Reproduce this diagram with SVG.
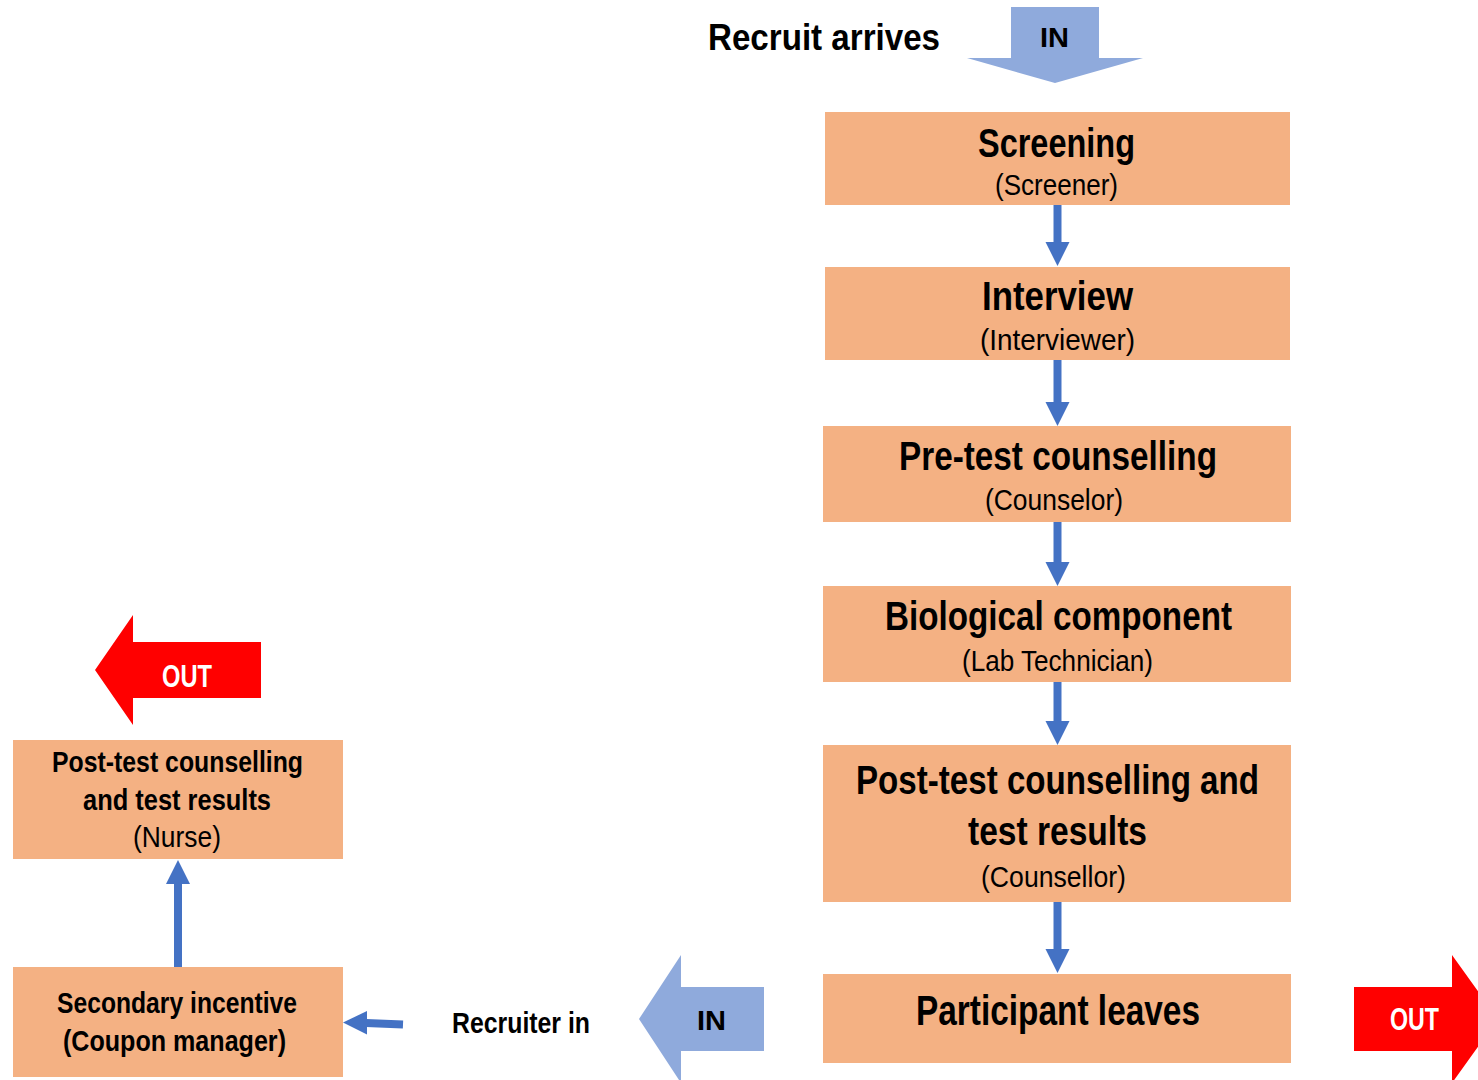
<svg xmlns="http://www.w3.org/2000/svg" width="1478" height="1080" viewBox="0 0 1478 1080">
<defs>
<style>
text{font-family:"Liberation Sans Narrow","Liberation Sans",Arial,sans-serif;fill:#000}
.b{font-weight:bold}
.r{font-weight:normal}
.w{fill:#fff}
.box{fill:#F4B183}
.in{fill:#8FAADC}
.out{fill:#FF0000}
.sh{stroke:#4472C4;stroke-width:8;fill:none}
.hd{fill:#4472C4}
</style>
</defs>
<rect width="1478" height="1080" fill="#fff"/>

<g id="recruit-arrives">
<text class="b" x="708" y="50" font-size="37" textLength="232" lengthAdjust="spacingAndGlyphs">Recruit arrives</text>
</g>
<g id="in-top">
<polygon class="in" points="1011,7 1099,7 1099,58 1143,58 1055,83 967,58 1011,58"/>
<text class="b" x="1040" y="47" font-size="28" textLength="29" lengthAdjust="spacingAndGlyphs">IN</text>
</g>

<g id="screening">
<rect class="box" x="825" y="112" width="465" height="93"/>
<text class="b" x="978" y="157" font-size="40" textLength="157" lengthAdjust="spacingAndGlyphs">Screening</text>
<text class="r" x="995" y="195" font-size="29" textLength="123" lengthAdjust="spacingAndGlyphs">(Screener)</text>
</g>
<g id="interview">
<rect class="box" x="825" y="267" width="465" height="93"/>
<text class="b" x="982" y="310" font-size="40" textLength="151" lengthAdjust="spacingAndGlyphs">Interview</text>
<text class="r" x="980" y="350" font-size="29" textLength="155" lengthAdjust="spacingAndGlyphs">(Interviewer)</text>
</g>
<g id="pretest">
<rect class="box" x="823" y="426" width="468" height="96"/>
<text class="b" x="899" y="470" font-size="40" textLength="318" lengthAdjust="spacingAndGlyphs">Pre-test counselling</text>
<text class="r" x="985" y="510" font-size="29" textLength="138" lengthAdjust="spacingAndGlyphs">(Counselor)</text>
</g>
<g id="biological">
<rect class="box" x="823" y="586" width="468" height="96"/>
<text class="b" x="885" y="630" font-size="40" textLength="347" lengthAdjust="spacingAndGlyphs">Biological component</text>
<text class="r" x="962" y="671" font-size="29" textLength="191" lengthAdjust="spacingAndGlyphs">(Lab Technician)</text>
</g>
<g id="posttest">
<rect class="box" x="823" y="745" width="468" height="157"/>
<text class="b" x="856" y="794" font-size="40" textLength="403" lengthAdjust="spacingAndGlyphs">Post-test counselling and</text>
<text class="b" x="968" y="845" font-size="40" textLength="179" lengthAdjust="spacingAndGlyphs">test results</text>
<text class="r" x="981" y="887" font-size="29" textLength="145" lengthAdjust="spacingAndGlyphs">(Counsellor)</text>
</g>
<g id="participant-leaves">
<rect class="box" x="823" y="974" width="468" height="89"/>
<text class="b" x="916" y="1025" font-size="43" textLength="284" lengthAdjust="spacingAndGlyphs">Participant leaves</text>
</g>
<g id="out-right">
<polygon class="out" points="1354,987 1452,987 1452,955 1498,1019 1452,1083 1452,1051 1354,1051"/>
<text class="b w" x="1390" y="1030" font-size="32" textLength="49" lengthAdjust="spacingAndGlyphs">OUT</text>
</g>
<g id="in-bottom">
<polygon class="in" points="764,987 681,987 681,955 639,1019 681,1083 681,1051 764,1051"/>
<text class="b" x="697" y="1030" font-size="28" textLength="29" lengthAdjust="spacingAndGlyphs">IN</text>
</g>
<g id="recruiter-in">
<text class="b" x="452" y="1033" font-size="29" textLength="138" lengthAdjust="spacingAndGlyphs">Recruiter in</text>
</g>
<g id="out-left">
<polygon class="out" points="261,642 133,642 133,615 95,670 133,725 133,698 261,698"/>
<text class="b w" x="162" y="687" font-size="31" textLength="50" lengthAdjust="spacingAndGlyphs">OUT</text>
</g>
<g id="nurse">
<rect class="box" x="13" y="740" width="330" height="119"/>
<text class="b" x="52" y="772" font-size="30" textLength="251" lengthAdjust="spacingAndGlyphs">Post-test counselling</text>
<text class="b" x="83" y="810" font-size="30" textLength="188" lengthAdjust="spacingAndGlyphs">and test results</text>
<text class="r" x="133" y="847" font-size="30" textLength="88" lengthAdjust="spacingAndGlyphs">(Nurse)</text>
</g>
<g id="coupon">
<rect class="box" x="13" y="967" width="330" height="110"/>
<text class="b" x="57" y="1013" font-size="30" textLength="240" lengthAdjust="spacingAndGlyphs">Secondary incentive</text>
<text class="b" x="63" y="1051" font-size="30" textLength="223" lengthAdjust="spacingAndGlyphs">(Coupon manager)</text>
</g>

<g id="connectors">
<line class="sh" x1="1057.5" y1="205" x2="1057.5" y2="243"/>
<polygon class="hd" points="1045.5,242 1069.5,242 1057.5,266"/>
<line class="sh" x1="1057.5" y1="360" x2="1057.5" y2="403"/>
<polygon class="hd" points="1045.5,402 1069.5,402 1057.5,426"/>
<line class="sh" x1="1057.5" y1="522" x2="1057.5" y2="563"/>
<polygon class="hd" points="1045.5,562 1069.5,562 1057.5,586"/>
<line class="sh" x1="1057.5" y1="682" x2="1057.5" y2="722"/>
<polygon class="hd" points="1045.5,721 1069.5,721 1057.5,745"/>
<line class="sh" x1="1057.5" y1="902" x2="1057.5" y2="950"/>
<polygon class="hd" points="1045.5,949 1069.5,949 1057.5,973"/>
<line class="sh" x1="178" y1="967" x2="178" y2="883"/>
<polygon class="hd" points="166,884 190,884 178,860"/>
<line class="sh" x1="403" y1="1024.5" x2="366" y2="1023"/>
<polygon class="hd" points="367,1011 367,1034.5 343,1022.5"/>
</g>
</svg>
